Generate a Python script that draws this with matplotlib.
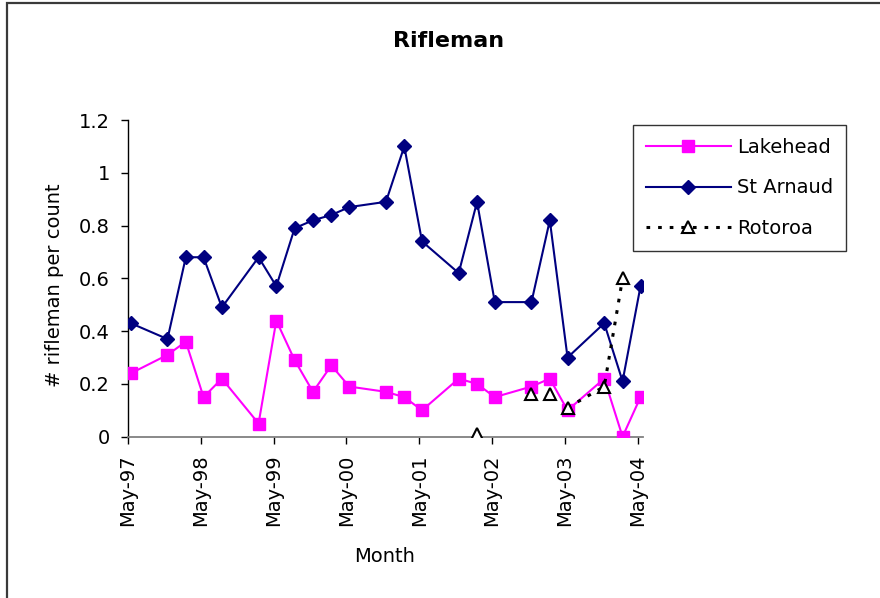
import numpy as np
import pandas as pd
import matplotlib
matplotlib.use("Agg")
import matplotlib.pyplot as plt
import matplotlib.dates as mdates
from matplotlib.patches import Rectangle

# Survey months (counts taken mid-month)
survey_months = ['1997-05', '1997-11', '1998-02', '1998-05', '1998-08', '1999-02',
                 '1999-05', '1999-08', '1999-11', '2000-02', '2000-05', '2000-11',
                 '2001-02', '2001-05', '2001-11', '2002-02', '2002-05', '2002-11',
                 '2003-02', '2003-05', '2003-11', '2004-02', '2004-05']

lakehead = [0.24, 0.31, 0.36, 0.15, 0.22, 0.05, 0.44, 0.29, 0.17, 0.27, 0.19, 0.17,
            0.15, 0.10, 0.22, 0.20, 0.15, 0.19, 0.22, 0.10, 0.22, 0.00, 0.15]

st_arnaud = [0.43, 0.37, 0.68, 0.68, 0.49, 0.68, 0.57, 0.79, 0.82, 0.84, 0.87, 0.89,
             1.10, 0.74, 0.62, 0.89, 0.51, 0.51, 0.82, 0.30, 0.43, 0.21, 0.57]

# Rotoroa counts; NaN marks months with no count, which breaks the line
rotoroa_months = ['2002-02', '2002-05', '2002-11', '2002-12', '2003-02', '2003-03',
                  '2003-05', '2003-11', '2004-02']
rotoroa = [0.01, np.nan, 0.16, np.nan, 0.16, np.nan, 0.11, 0.19, 0.60]

tick_years = list(range(1997, 2005))


def to_dates(months):
    return pd.to_datetime([m + '-15' for m in months])


plt.rcParams['font.family'] = ['DejaVu Sans']

W, H = 880, 598
fig = plt.figure(figsize=(W / 100, H / 100), dpi=100)

# outer chart border
fig.patches.append(Rectangle((7 / W, -0.05), 1.1, 1 - 2.5 / H + 0.05,
                             transform=fig.transFigure, fill=False,
                             edgecolor='#3a3a3a', linewidth=1.6, zorder=0))

ax = fig.add_axes([128 / W, 1 - 436.7 / H, 514.7 / W, 316.7 / H])

d_main = to_dates(survey_months)
ax.plot(d_main, lakehead, color='#FF00FF', lw=1.5, marker='s', ms=8.5,
        mfc='#FF00FF', mec='#FF00FF', label='Lakehead', zorder=3)
ax.plot(d_main, st_arnaud, color='#000080', lw=1.5, marker='D', ms=6.8,
        mfc='#000080', mec='#000080', label='St Arnaud', zorder=4)
ax.plot(to_dates(rotoroa_months), rotoroa, color='black', lw=2.2,
        linestyle=(0, (1.2, 2.6)), marker='^', ms=8.5, mfc='white',
        mec='black', mew=1.5, label='Rotoroa', zorder=5)

ax.set_ylim(0, 1.2)
ax.set_yticks(np.arange(0, 1.21, 0.2))
ax.set_yticklabels(['0', '0.2', '0.4', '0.6', '0.8', '1', '1.2'])
ax.set_xlim(pd.Timestamp('1997-05-01'), pd.Timestamp('2004-05-26'))
ax.set_xticks([pd.Timestamp(f'{y}-05-01') for y in tick_years])
ax.xaxis.set_major_formatter(mdates.DateFormatter('%b-%y'))

for side in ('top', 'right'):
    ax.spines[side].set_visible(False)
ax.spines['left'].set_color('black')
ax.spines['bottom'].set_color('#808080')
ax.spines['left'].set_linewidth(1.0)
ax.spines['bottom'].set_linewidth(1.3)
ax.tick_params(axis='both', direction='out', length=5, width=1, color='black',
               labelsize=14, pad=8)
ax.tick_params(axis='x', labelrotation=90)
ax.patch.set_alpha(0)

fig.text(448.7 / W, 1 - 47.3 / H, 'Rifleman', ha='center', va='baseline',
         fontsize=16, fontweight='bold')
fig.text(385 / W, 1 - 561.7 / H, 'Month', ha='center', va='baseline', fontsize=14)
fig.text(54 / W, 1 - 285 / H, '# rifleman per count', ha='center', va='center',
         rotation=90, fontsize=14)

leg = ax.legend(loc='upper left', bbox_to_anchor=(633 / W, 1 - 125 / H),
                bbox_transform=fig.transFigure, frameon=True, fancybox=False,
                edgecolor='black', fontsize=14, handlelength=4.4,
                handletextpad=0.3, labelspacing=1.12, borderpad=0.65,
                borderaxespad=0)
leg.get_frame().set_linewidth(1.0)

fig.savefig('out.png', dpi=100)
